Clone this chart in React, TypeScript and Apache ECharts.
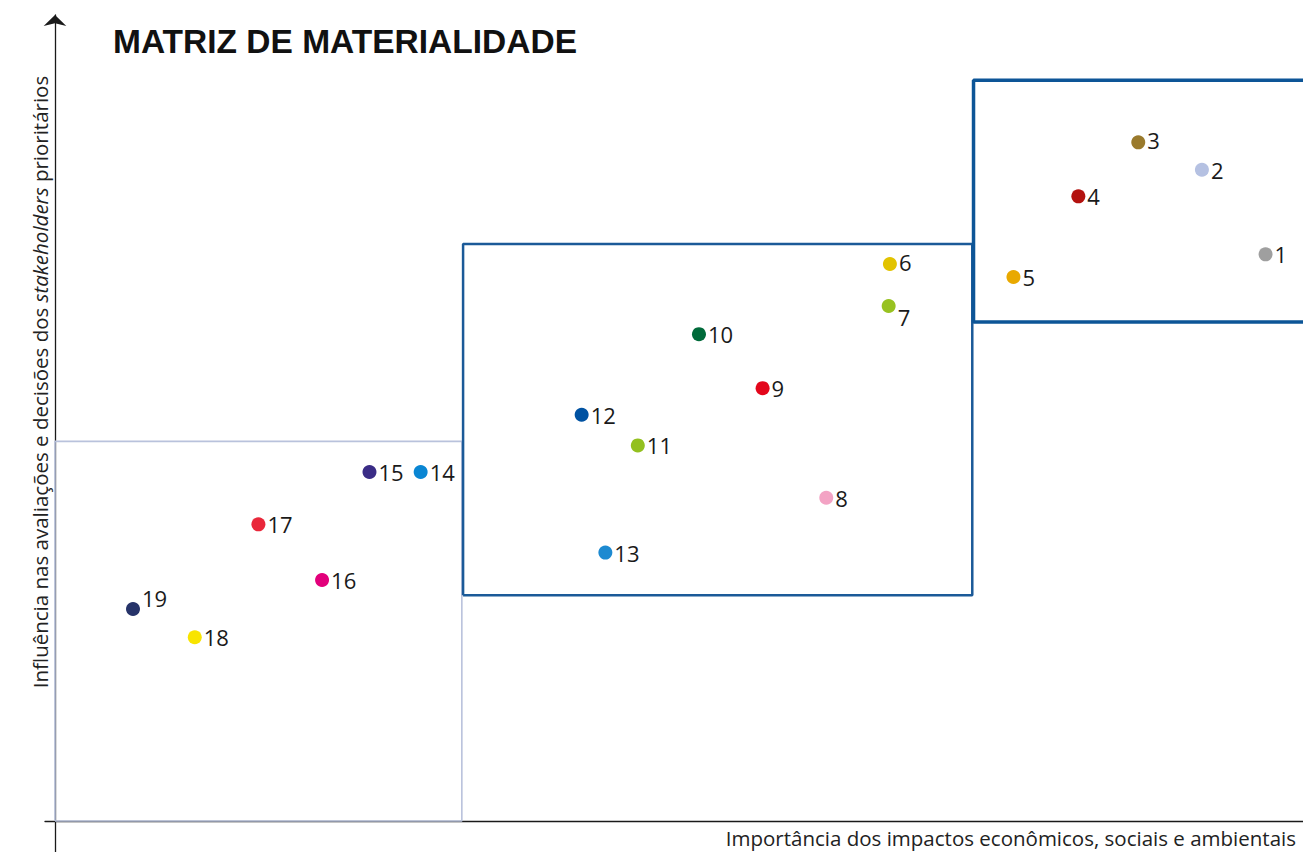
import React, { useEffect, useRef } from "react";
import * as echarts from "echarts";

const TITLE = "MATRIZ DE MATERIALIDADE";
const X_TITLE = "Importância dos impactos econômicos, sociais e ambientais";
const Y_TITLE_A = "Influência nas avaliações e decisões dos ";
const Y_TITLE_B = "stakeholders";
const Y_TITLE_C = " prioritários";

const topicIds = ["1", "2", "3", "4", "5", "6", "7", "8", "9", "10", "11", "12", "13", "14", "15", "16", "17", "18", "19"];
const impactX = [97.0, 91.9, 86.8, 82.0, 76.8, 66.9, 66.8, 61.8, 56.7, 51.6, 46.7, 42.2, 44.1, 29.3, 25.2, 21.4, 16.3, 11.2, 6.25];
const influenceY = [70.3, 80.8, 84.2, 77.5, 67.5, 69.1, 63.9, 40.1, 53.7, 60.4, 46.6, 50.4, 33.3, 43.3, 43.3, 29.9, 36.8, 22.8, 26.3];
const topicColors = [
  "#9f9f9f", "#b5c1e2", "#9a7a2c", "#b3120f", "#e9a900", "#e2c300", "#98c221", "#f3a3c4", "#e3061b", "#006a3a",
  "#93c01f", "#0052a2", "#1d8ad1", "#0a86d3", "#3a2c86", "#e2007b", "#e9273a", "#f8e400", "#263369",
];

// zone rectangles (data units)
const lowZoneX = [0, 0, 32.6, 32.6, 0];
const lowZoneY = [0, 47.1, 47.1, 0, 0];
const midZoneX = [32.7, 32.7, 73.5, 73.5, 32.7];
const midZoneY = [28.0, 71.6, 71.6, 28.0, 28.0];
const highZoneX = [100, 73.6, 73.6, 100];
const highZoneY = [91.9, 91.9, 61.9, 61.9];

const zip = (xs: number[], ys: number[]) => xs.map((x, i) => [x, ys[i]]);

export default function App() {
  const ref = useRef<HTMLDivElement>(null);
  useEffect(() => {
    const chart = echarts.init(ref.current!, null, { renderer: "svg" });
    const labelFont = "'Open Sans', 'Noto Sans', sans-serif";
    const points = topicIds.map((id, i) => {
      const item: any = {
        name: id,
        value: [impactX[i], influenceY[i]],
        itemStyle: { color: topicColors[i], opacity: 1 },
      };
      if (id === "7") item.label = { offset: [0, 11] };
      if (id === "19") item.label = { offset: [0, -11] };
      if (id === "6" || id === "3") item.label = { offset: [0, -2] };
      return item;
    });
    chart.setOption({
      animation: false,
      grid: { left: 45, right: 0, top: 15, bottom: 0 },
      xAxis: {
        type: "value",
        min: -0.8,
        max: 100,
        axisLine: { show: true, onZero: true, lineStyle: { color: "#1a1a1a", width: 1.3 } },
        axisTick: { show: false },
        axisLabel: { show: false },
        splitLine: { show: false },
      },
      yAxis: {
        type: "value",
        min: -3.85,
        max: 100,
        axisLine: {
          show: true,
          onZero: true,
          symbol: ["none", "arrow"],
          symbolSize: [17, 11],
          lineStyle: { color: "#1a1a1a", width: 1.3 },
        },
        axisTick: { show: false },
        axisLabel: { show: false },
        splitLine: { show: false },
      },
      series: [
        {
          type: "line",
          data: zip(lowZoneX, lowZoneY),
          symbol: "none",
          lineStyle: { color: "#b9c2dc", width: 1.6 },
          silent: true,
        },
        {
          type: "line",
          data: zip(midZoneX, midZoneY),
          symbol: "none",
          lineStyle: { color: "#1b5a98", width: 2.5 },
          silent: true,
        },
        {
          type: "line",
          data: zip(highZoneX, highZoneY),
          symbol: "none",
          lineStyle: { color: "#0d5597", width: 3.5 },
          silent: true,
        },
        {
          type: "scatter",
          symbolSize: 14,
          data: points,
          itemStyle: { opacity: 1 },
          label: {
            show: true,
            position: "right",
            distance: 2,
            formatter: "{b}",
            fontSize: 22,
            color: "#1a1a1a",
            fontFamily: labelFont,
          },
        },
      ],
      graphic: [
        {
          type: "text",
          left: 113,
          top: 24,
          style: {
            text: TITLE,
            fontSize: 33.5,
            fontWeight: "bold",
            fontFamily: "'Liberation Sans', Arial, sans-serif",
            fill: "#111",
          },
        },
        {
          type: "text",
          x: 1296,
          y: 838,
          style: {
            text: X_TITLE,
            fontSize: 20.5,
            fontFamily: labelFont,
            fill: "#222",
            align: "right",
            verticalAlign: "middle",
          },
        },
        {
          type: "text",
          x: 40,
          y: 382,
          rotation: Math.PI / 2,
          style: {
            text: "{a|" + Y_TITLE_A + "}{b|" + Y_TITLE_B + "}{a|" + Y_TITLE_C + "}",
            align: "center",
            verticalAlign: "middle",
            rich: {
              a: { fontSize: 20.5, fontFamily: labelFont, fill: "#222", color: "#222" },
              b: { fontSize: 20.5, fontFamily: labelFont, fontStyle: "italic", fill: "#222", color: "#222" },
            },
          },
        },
      ],
    });
    return () => chart.dispose();
  }, []);
  return <div ref={ref} style={{ position: "fixed", left: 0, top: 0, width: 1303, height: 852, background: "#fff" }} />;
}
